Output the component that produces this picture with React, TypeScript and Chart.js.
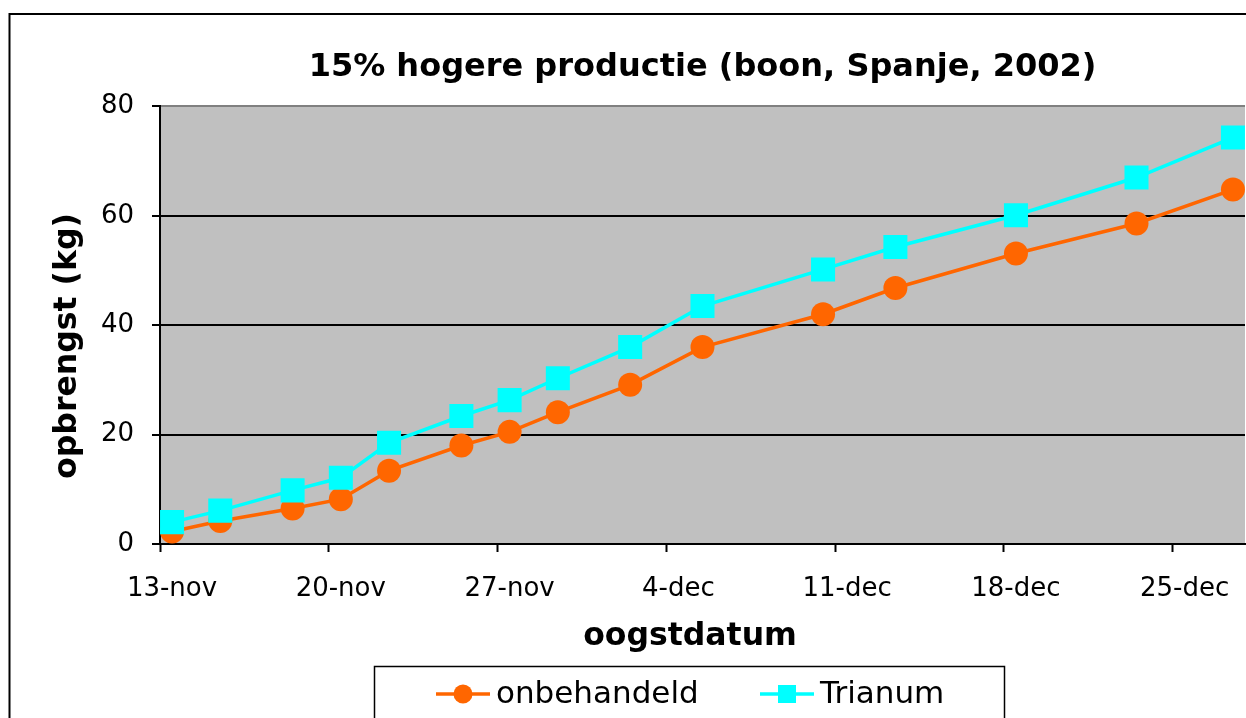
import { useEffect, useRef } from "react";
import { Chart, registerables } from "chart.js";

Chart.register(...registerables);

// Harvest dates, as days after 13-nov (2002)
const harvestDay = [0, 2, 5, 7, 9, 12, 14, 16, 19, 22, 27, 30, 35, 40, 44];
// Cumulative yield (kg)
const onbehandeld = [2.3, 4.2, 6.5, 8.2, 13.4, 18.0, 20.5, 24.1, 29.1, 36.0, 42.0, 46.8, 53.1, 58.6, 64.8];
const trianum = [4.0, 6.1, 9.8, 12.1, 18.5, 23.4, 26.3, 30.3, 36.0, 43.5, 50.2, 54.3, 60.1, 67.0, 74.3];
// Date-axis ticks (days after 13-nov) and their labels
const tickDays = [0, 7, 14, 21, 28, 35, 42];
const tickLabels = ["13-nov", "20-nov", "27-nov", "4-dec", "11-dec", "18-dec", "25-dec"];
const seriesNames = ["onbehandeld", "Trianum"];
const seriesColors = ["#ff6600", "#00ffff"];
const chartTitle = "15% hogere productie (boon, Spanje, 2002)";
const xTitle = "oogstdatum";
const yTitle = "opbrengst (kg)";

const FONT = "DejaVu Sans";

// Excel-style date axis: each point sits in the middle of its day slot
const toPoints = (vals: number[]) => harvestDay.map((d, i) => ({ x: d + 0.5, y: vals[i] }));

const framePlugin = {
  id: "frame",
  beforeDraw(chart: any) {
    const { ctx, chartArea: a } = chart;
    ctx.save();
    ctx.fillStyle = "#ffffff";
    ctx.fillRect(0, 0, chart.width, chart.height);
    ctx.fillStyle = "#c0c0c0";
    ctx.fillRect(a.left, a.top, a.right - a.left, a.bottom - a.top);
    ctx.strokeStyle = "#000000";
    ctx.lineWidth = 2;
    ctx.strokeRect(9.5, 14, chart.width + 40, chart.height + 40);
    ctx.restore();
  },
};

// Axis titles placed as in the original (Excel offsets them from the plot centre)
const axisTitlePlugin = {
  id: "axisTitles",
  afterDraw(chart: any) {
    const ctx = chart.ctx;
    ctx.save();
    ctx.fillStyle = "#000000";
    ctx.font = `bold 31.5px "${FONT}"`;
    ctx.textAlign = "center";
    ctx.textBaseline = "middle";
    ctx.fillText(xTitle, 690, 637);
    ctx.translate(68, 346);
    ctx.rotate(-Math.PI / 2);
    ctx.fillText(yTitle, 0, 0);
    ctx.restore();
  },
};

const boxLegendPlugin = {
  id: "boxLegend",
  afterDraw(chart: any) {
    const ctx = chart.ctx;
    ctx.save();
    ctx.strokeStyle = "#000000";
    ctx.lineWidth = 1.5;
    ctx.strokeRect(374.5, 666.5, 630, 80);
    const starts = [436, 760];
    const y = 694;
    const order = [1, 0]; // dataset indices in legend order: onbehandeld, Trianum
    order.forEach((dsIndex, k) => {
      const ds = chart.data.datasets[dsIndex];
      const x0 = starts[k];
      ctx.strokeStyle = ds.borderColor;
      ctx.fillStyle = ds.borderColor;
      ctx.lineWidth = 3.5;
      ctx.beginPath();
      ctx.moveTo(x0, y);
      ctx.lineTo(x0 + 54, y);
      ctx.stroke();
      const cx = x0 + 27;
      ctx.beginPath();
      if (ds.pointStyle === "rect") {
        ctx.rect(cx - 9, y - 9, 18, 18);
      } else {
        ctx.arc(cx, y, 9.5, 0, Math.PI * 2);
      }
      ctx.fill();
      ctx.fillStyle = "#000000";
      ctx.font = `31px "${FONT}"`;
      ctx.textBaseline = "middle";
      ctx.textAlign = "left";
      ctx.fillText(ds.label, x0 + 60, y + 1);
    });
    ctx.restore();
  },
};

export default function App() {
  const ref = useRef<HTMLCanvasElement | null>(null);

  useEffect(() => {
    if (!ref.current) return;
    Chart.defaults.font.family = FONT;
    const chart = new Chart(ref.current, {
      type: "line",
      data: {
        datasets: [
          {
            label: seriesNames[1],
            data: toPoints(trianum),
            borderColor: seriesColors[1],
            backgroundColor: seriesColors[1],
            pointBackgroundColor: seriesColors[1],
            borderWidth: 3.5,
            pointStyle: "rect",
            pointRadius: 17,
            pointBorderWidth: 0,
            tension: 0,
            order: 0,
          },
          {
            label: seriesNames[0],
            data: toPoints(onbehandeld),
            borderColor: seriesColors[0],
            backgroundColor: seriesColors[0],
            pointBackgroundColor: seriesColors[0],
            borderWidth: 3.5,
            pointStyle: "circle",
            pointRadius: 12,
            pointBorderWidth: 0,
            tension: 0,
            order: 1,
          },
        ],
      },
      options: {
        responsive: false,
        animation: false,
        devicePixelRatio: 1,
        layout: { padding: { left: 0, right: 10, top: 0, bottom: 76 } },
        plugins: {
          legend: { display: false },
          tooltip: { enabled: false },
          title: {
            display: true,
            text: chartTitle,
            color: "#000000",
            font: { family: FONT, size: 32, weight: "bold" },
            padding: { top: 48, bottom: 20 },
            fullSize: false,
          },
        },
        scales: {
          x: {
            type: "linear",
            min: 0,
            max: 45,
            afterBuildTicks: (s: any) => {
              s.ticks = tickDays.map((v) => ({ value: v }));
            },
            afterFit: (s: any) => {
              s.height = 120;
            },
            ticks: {
              callback: (v: any) => {
                const i = tickDays.indexOf(Number(v));
                return i >= 0 ? tickLabels[i] : "";
              },
              color: "#000000",
              font: { family: FONT, size: 26 },
              padding: 22,
              labelOffset: 12,
              maxRotation: 0,
              autoSkip: false,
            },
            grid: {
              drawOnChartArea: false,
              drawTicks: true,
              tickLength: 8,
              tickColor: "#000000",
              tickWidth: 2,
            },
            border: { color: "#000000", width: 2 },
            title: { display: false, text: xTitle },
          },
          y: {
            min: 0,
            max: 80,
            afterFit: (s: any) => {
              s.width = 160;
            },
            ticks: {
              stepSize: 20,
              color: "#000000",
              font: { family: FONT, size: 26 },
              padding: 18,
            },
            grid: {
              color: (c: any) => (c.tick && c.tick.value === 80 ? "#808080" : "#000000"),
              lineWidth: 2,
              tickLength: 8,
              tickColor: "#000000",
              tickWidth: 2,
            },
            border: { color: "#000000", width: 2 },
            title: { display: false, text: yTitle },
          },
        },
      },
      plugins: [framePlugin, axisTitlePlugin, boxLegendPlugin],
    } as any);
    return () => chart.destroy();
  }, []);

  return (
    <div
      style={{
        position: "fixed",
        left: 0,
        top: 0,
        width: 1246,
        height: 718,
        overflow: "hidden",
        background: "#ffffff",
      }}
    >
      <canvas ref={ref} width={1262} height={740} style={{ display: "block" }} />
    </div>
  );
}
